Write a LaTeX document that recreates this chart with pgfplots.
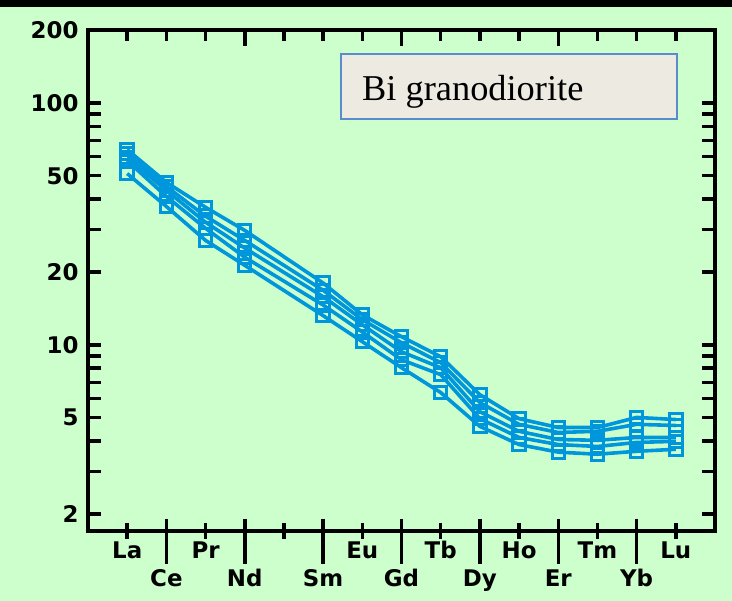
\documentclass[border=0pt]{standalone}
\usepackage{fontspec}
\setmainfont{Liberation Serif}
\newfontfamily\tickfont{DejaVu Sans}
\usepackage{pgfplots}
\pgfplotsset{compat=1.18}

\definecolor{bggreen}{RGB}{204,255,204}
\definecolor{reeblue}{RGB}{0,150,220}
\definecolor{boxfill}{RGB}{236,234,225}
\definecolor{boxedge}{RGB}{90,140,205}

\pgfplotsset{
    ree/.style={color=reeblue, line width=3.6bp, mark=square, mark size=6.2bp,
        mark options={solid, line width=3bp, fill=none}},
}

\begin{document}
\begin{tikzpicture}
\fill[bggreen] (0,0) rectangle (732bp,601bp);
\fill[black] (0,594bp) rectangle (732bp,601bp);
\begin{axis}[
    at={(88bp,70bp)}, anchor=south west,
    scale only axis, width=627bp, height=501bp,
    xmin=0, xmax=16,
    ymode=log, ymin=1.70, ymax=200,
    axis line style={line width=4bp},
    every tick/.style={black, line width=3.5bp},
    tick align=inside,
    major tick length=13bp, minor tick length=13bp,
    xtick={1,3,5,7,9,11,13,15},
    xticklabels={La,Pr,,Eu,Tb,Ho,Tm,Lu},
    xtick style={draw=none},
    xticklabel style={yshift=-7bp},
    extra x ticks={2,4,6,8,10,12,14},
    extra x tick labels={Ce,Nd,Sm,Gd,Dy,Er,Yb},
    extra x tick style={xticklabel style={yshift=-28bp}},
    ytick={2,5,10,20,50,100,200},
    yticklabels={2,5,10,20,50,100,200},
    yticklabel style={xshift=-6bp},
    minor ytick={3,4,6,7,8,9,30,40,60,70,80,90},
    tick label style={font=\tickfont\bfseries\fontsize{23}{25}\selectfont},
    clip=false,
]
% La Ce Pr Nd (Pm) Sm Eu Gd Tb Dy Ho Er Tm Yb Lu
\addplot[ree] coordinates {(1,64.1)(2,46.9)(3,37.0)(4,29.7)(6,18.0)(7,13.3)(8,10.8)(9,8.93)(10,6.22)(11,4.95)(12,4.55)(13,4.55)(14,5.01)(15,4.91)};
\addplot[ree] coordinates {(1,61.7)(2,45.1)(3,34.0)(4,27.0)(6,16.8)(7,12.7)(8,10.2)(9,8.44)(10,5.77)(11,4.69)(12,4.34)(13,4.39)(14,4.69)(15,4.64)};
\addplot[ree] coordinates {(1,59.4)(2,43.4)(3,32.1)(4,25.1)(6,15.8)(7,12.1)(8,9.36)(9,8.04)(10,5.29)(11,4.39)(12,4.06)(13,4.03)(14,4.14)(15,4.14)};
\addplot[ree] coordinates {(1,57.7)(2,41.0)(3,30.3)(4,23.0)(6,14.6)(7,11.3)(8,8.67)(9,7.53)(10,4.95)(11,4.14)(12,3.87)(13,3.80)(14,3.95)(15,3.99)};
\addplot[ree] coordinates {(1,51.0)(2,37.3)(3,27.0)(4,21.3)(6,13.2)(7,10.3)(8,8.04)(9,6.35)(10,4.60)(11,3.87)(12,3.60)(13,3.53)(14,3.63)(15,3.70)};

% x ticks: short crossing ticks at odd places, long ones at even places
\pgfplotsinvokeforeach{1,3,5,7,9,11,13,15}{
    \draw[line width=3.5bp] ([yshift=8bp]axis cs:#1,1.70) -- ([yshift=-8bp]axis cs:#1,1.70);
    \draw[line width=3.5bp] (axis cs:#1,200) -- ([yshift=-11bp]axis cs:#1,200);}
\pgfplotsinvokeforeach{2,6,10,14}{
    \draw[line width=3.5bp] ([yshift=12bp]axis cs:#1,1.70) -- ([yshift=-33bp]axis cs:#1,1.70);
    \draw[line width=3.5bp] (axis cs:#1,200) -- ([yshift=-11bp]axis cs:#1,200);}
\pgfplotsinvokeforeach{4,8,12}{
    \draw[line width=3.5bp] ([yshift=12bp]axis cs:#1,1.70) -- ([yshift=-33bp]axis cs:#1,1.70);
    \draw[line width=3.5bp] (axis cs:#1,200) -- ([yshift=-16bp]axis cs:#1,200);}
\end{axis}

\draw[boxedge, fill=boxfill, line width=1.8bp] (341bp,482bp) rectangle (677bp,547bp);
\node[anchor=base west, inner sep=0, font=\fontsize{36.5}{40}\selectfont] at (362bp,500bp) {Bi granodiorite};
\pgfresetboundingbox
\useasboundingbox (0,0) rectangle (732bp,601bp);
\end{tikzpicture}
\end{document}
